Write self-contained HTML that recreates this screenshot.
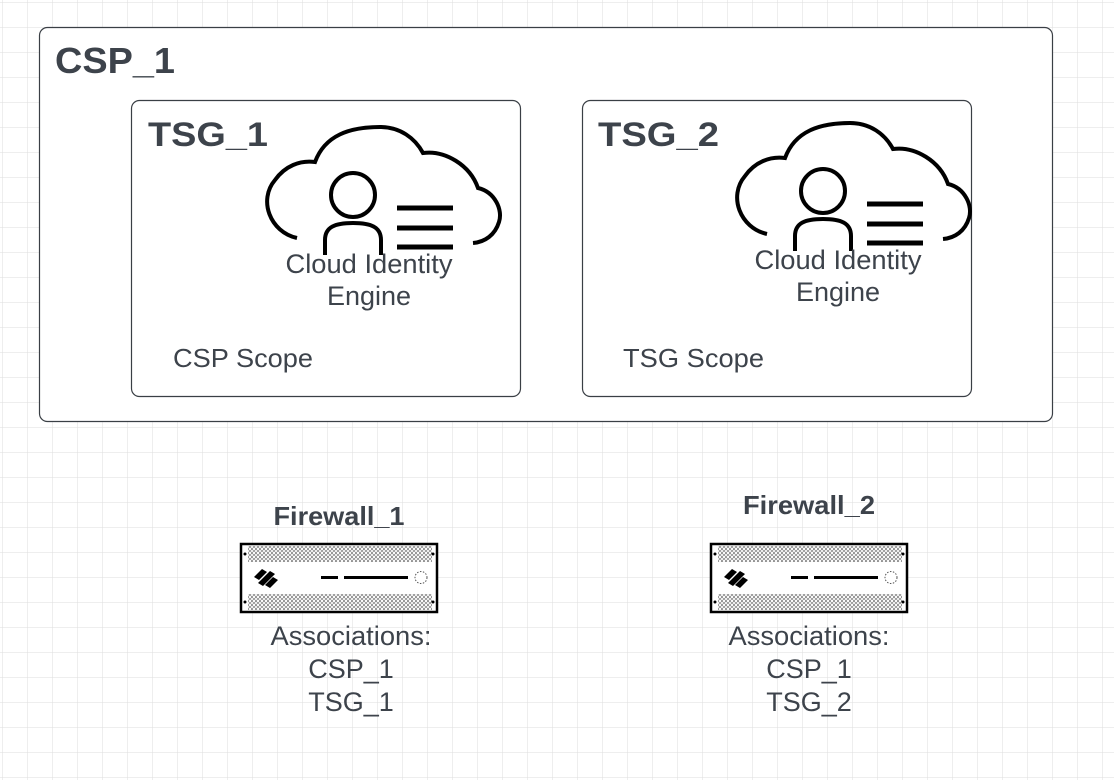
<!DOCTYPE html>
<html><head><meta charset="utf-8"><style>
html,body{margin:0;padding:0;background:#fff}
svg{display:block}
text{font-family:"Liberation Sans",Arial,sans-serif;fill:#3d434b}
</style></head><body>
<svg width="1114" height="780" viewBox="0 0 1114 780" xmlns="http://www.w3.org/2000/svg">
<defs>
<pattern id="grid" x="2" y="2" width="25" height="25" patternUnits="userSpaceOnUse">
<path d="M0 0H25M0 0V25" stroke="#dedede" stroke-width="1" fill="none"/>
</pattern>
<pattern id="holes" x="0" y="0" width="4" height="4" patternUnits="userSpaceOnUse">
<circle cx="2" cy="2" r="1.5" fill="none" stroke="#555" stroke-width="0.6"/>
</pattern>
<g id="fw">
<rect x="1" y="1" width="196" height="68" fill="#fff" stroke="#000" stroke-width="2.5"/>
<rect x="8" y="3" width="184" height="16" fill="url(#holes)"/>
<rect x="8" y="51" width="184" height="16" fill="url(#holes)"/>
<circle cx="5" cy="11" r="1.5" fill="#000"/><circle cx="193" cy="11" r="1.5" fill="#000"/>
<circle cx="5" cy="59" r="1.5" fill="#000"/><circle cx="193" cy="59" r="1.5" fill="#000"/>
<g fill="#000">
<path d="M14 34 L22 26 L27 29 L19 37Z"/>
<path d="M18 40 L30 28 L35 31 L23 43Z"/>
<path d="M25 42 L33 34 L38 37 L30 45Z"/>
</g>
<rect x="81" y="33" width="17" height="3" fill="#000"/>
<rect x="104" y="33" width="64" height="3" fill="#000"/>
<circle cx="181" cy="34.5" r="6" fill="none" stroke="#555" stroke-width="1" stroke-dasharray="1.5 1.5"/>
</g>
<g id="cie" fill="none" stroke="#000" stroke-width="4">
<path d="M297,238 C270,232 258,200 275,180 C285,166 300,160 315,162 C325,135 350,127 380,127 C400,127 415,138 423,153 C445,150 470,165 478,188 C495,192 503,210 499,222 C495,235 485,242 473,243"/>
<circle cx="353" cy="195" r="22"/>
<path d="M325,255 L325,240 C325,227 335,223 353,223 C371,223 381,227 381,240 L381,255"/>
<path d="M397,208H453M397,228H453M397,247H453" stroke-width="5"/>
</g>
</defs>
<rect width="1114" height="780" fill="#fff"/>
<rect width="1114" height="780" fill="url(#grid)"/>

<rect x="39.5" y="27.5" width="1013" height="394" rx="8" fill="#fff" stroke="#3a3f45" stroke-width="1.2"/>
<text x="55" y="73" font-size="36" font-weight="bold" textLength="120" lengthAdjust="spacingAndGlyphs">CSP_1</text>

<rect x="131.5" y="100.5" width="389" height="296" rx="8" fill="#fff" stroke="#3a3f45" stroke-width="1.2"/>
<rect x="582.5" y="100.5" width="389" height="296" rx="8" fill="#fff" stroke="#3a3f45" stroke-width="1.2"/>

<use href="#cie"/>
<use href="#cie" transform="translate(470,-4)"/>

<text x="148" y="146" font-size="34" font-weight="bold" textLength="120" lengthAdjust="spacingAndGlyphs">TSG_1</text>
<text x="598" y="146" font-size="34" font-weight="bold" textLength="121" lengthAdjust="spacingAndGlyphs">TSG_2</text>

<g font-size="27" text-anchor="middle">
<text x="369" y="273" textLength="167" lengthAdjust="spacingAndGlyphs">Cloud Identity</text>
<text x="369" y="305">Engine</text>
<text x="838" y="269" textLength="167" lengthAdjust="spacingAndGlyphs">Cloud Identity</text>
<text x="838" y="301">Engine</text>
</g>
<text x="173" y="367" font-size="26" textLength="140" lengthAdjust="spacingAndGlyphs">CSP Scope</text>
<text x="623" y="367" font-size="26" textLength="141" lengthAdjust="spacingAndGlyphs">TSG Scope</text>

<text x="339" y="525" font-size="26" font-weight="bold" text-anchor="middle" textLength="131" lengthAdjust="spacingAndGlyphs">Firewall_1</text>
<text x="809" y="514" font-size="26" font-weight="bold" text-anchor="middle" textLength="132" lengthAdjust="spacingAndGlyphs">Firewall_2</text>

<use href="#fw" x="240" y="543"/>
<use href="#fw" x="710" y="543"/>

<g font-size="27" text-anchor="middle">
<text x="351" y="645" textLength="161" lengthAdjust="spacingAndGlyphs">Associations:</text>
<text x="351" y="678">CSP_1</text>
<text x="351" y="711">TSG_1</text>
<text x="809" y="645" textLength="161" lengthAdjust="spacingAndGlyphs">Associations:</text>
<text x="809" y="678">CSP_1</text>
<text x="809" y="711">TSG_2</text>
</g>
</svg>
</body></html>
